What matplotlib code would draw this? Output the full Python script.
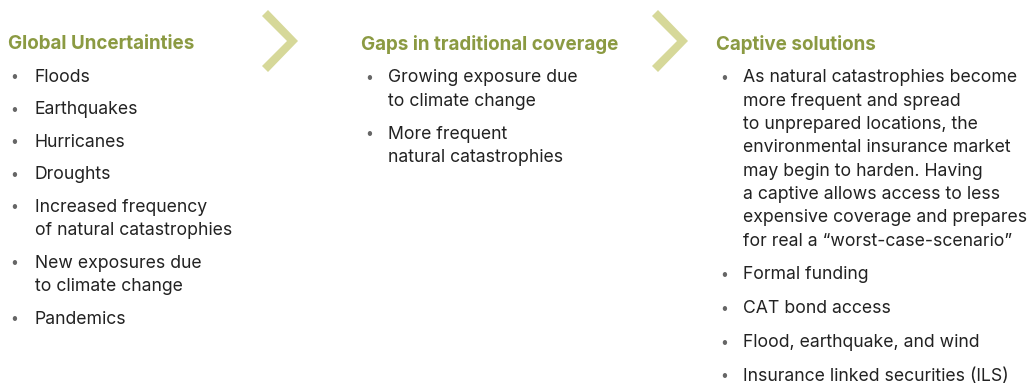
import matplotlib.pyplot as plt
from matplotlib.patches import Polygon

# column headers and their bullet items (each item is a list of wrapped lines)
headers = ["Global Uncertainties", "Gaps in traditional coverage", "Captive solutions"]
col1_items = [
    ["Floods"],
    ["Earthquakes"],
    ["Hurricanes"],
    ["Droughts"],
    ["Increased frequency", "of natural catastrophies"],
    ["New exposures due", "to climate change"],
    ["Pandemics"],
]
col2_items = [
    ["Growing exposure due", "to climate change"],
    ["More frequent", "natural catastrophies"],
]
col3_items = [
    ["As natural catastrophies become", "more frequent and spread",
     "to unprepared locations, the", "environmental insurance market",
     "may begin to harden. Having", "a captive allows access to less",
     "expensive coverage and prepares", "for real a \u201cworst-case-scenario\u201d"],
    ["Formal funding"],
    ["CAT bond access"],
    ["Flood, earthquake, and wind"],
    ["Insurance linked securities (ILS)"],
]
columns = [col1_items, col2_items, col3_items]

HEAD_COLOR = "#8b9a42"
CHEV_COLOR = "#d6d899"
TEXT_COLOR = "#222222"
BULLET_COLOR = "#666666"
FONT = ["Inter", "DejaVu Sans"]

fig = plt.figure(figsize=(10.27, 3.84), dpi=100)
ax = fig.add_axes([0, 0, 1, 1])
ax.set_xlim(0, 1027)
ax.set_ylim(384, 0)
ax.axis("off")
renderer = fig.canvas.get_renderer()


def fit_size(s, width_px, **kw):
    # font size that makes string s about width_px wide
    t = ax.text(0, 0, s, fontsize=10, family=FONT, **kw)
    w = t.get_window_extent(renderer).width
    t.remove()
    return 10 * width_px / w


head_fs = fit_size("Gaps in traditional coverage", 258, fontweight="bold")
body_fs = fit_size("As natural catastrophies become", 276)

col_x = [8, 361, 716]
bullet_dx = [2, 4, 4]
text_dx = 27
head_y = 44
first_y = [77, 78, 78]
line_h = 23.3
item_gap = [9.3, 9.5, 10.5]

for i, (hdr, items) in enumerate(zip(headers, columns)):
    x0 = col_x[i]
    ax.text(x0, head_y, hdr, fontsize=head_fs, fontweight="bold", color=HEAD_COLOR,
            family=FONT, va="center", ha="left")
    y = first_y[i]
    for item in items:
        ax.text(x0 + bullet_dx[i], y, "\u2022", fontsize=10, color=BULLET_COLOR,
                family=FONT, va="center", ha="left")
        for line in item:
            ax.text(x0 + text_dx, y, line, fontsize=body_fs, color=TEXT_COLOR,
                    family=FONT, va="center", ha="left")
            y += line_h
        y += item_gap[i]

# chevrons between columns
for cx in [262, 652]:
    pts = [(cx + 6, 10), (cx + 36, 41), (cx + 6, 72),
           (cx, 66), (cx + 25, 41), (cx, 16)]
    ax.add_patch(Polygon(pts, closed=True, facecolor=CHEV_COLOR, edgecolor="none"))

fig.savefig("out.png", dpi=100)
